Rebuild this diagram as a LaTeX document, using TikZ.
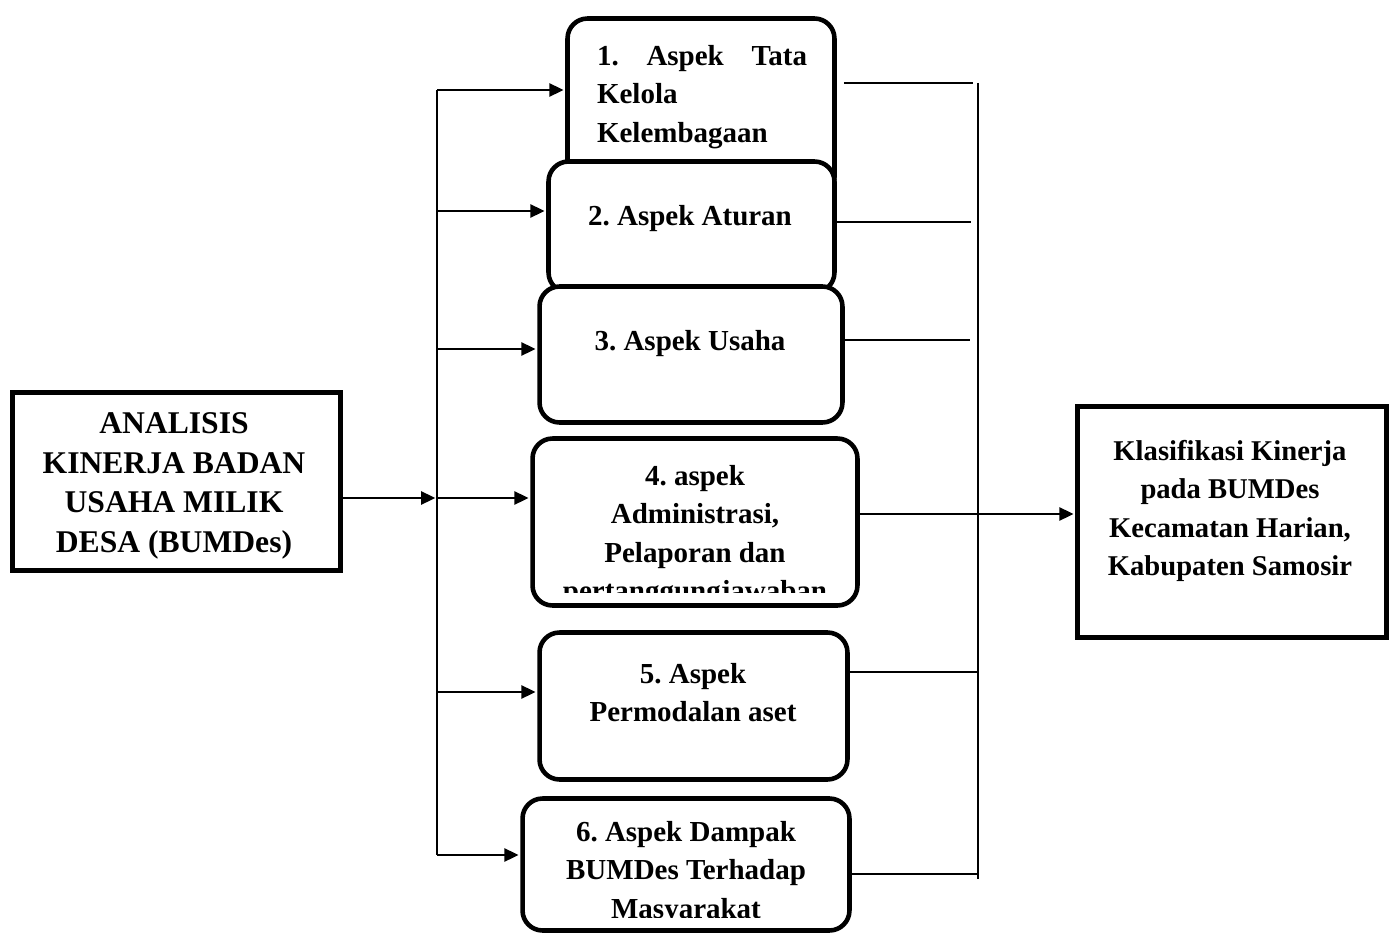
\documentclass[tikz,border=0pt]{standalone}
\usepackage{fontspec}
\setmainfont{Liberation Serif}
\usetikzlibrary{arrows.meta, calc}

\tikzstyle{aspek} = [rectangle, rounded corners=0.4cm, draw, line width=2.6pt, fill=white, inner sep=0pt]
\tikzstyle{kotak} = [rectangle, draw, line width=2.6pt, fill=white, inner sep=0pt]
\tikzstyle{isi} = [inner sep=0pt, align=center, font=\bfseries\frenchspacing\fontsize{16.5}{21.8}\selectfont]
\tikzstyle{arrow} = [line width=1.1pt, shorten >=1pt, -{Triangle[length=8pt,width=7.5pt]}]
\tikzstyle{garis} = [line width=1.1pt]

\begin{document}
\begin{tikzpicture}[x=0.02cm, y=-0.02cm]
\useasboundingbox (0,0) rectangle (1394,936);

% kotak analisis dan klasifikasi
\node[kotak, minimum width=6.56cm, minimum height=3.56cm] (ana) at (176.5,481.5) {};
\node[isi, font=\bfseries\frenchspacing\fontsize{18}{22.5}\selectfont] (tana) at (174,486) {ANALISIS\\KINERJA BADAN\\USAHA MILIK\\DESA (BUMDes)};
\node[kotak, minimum width=6.18cm, minimum height=4.62cm] (kls) at (1232,522) {};
\node[isi, font=\bfseries\frenchspacing\fontsize{16.3}{21.8}\selectfont] (tkls) at (1230,511) {Klasifikasi Kinerja\\pada BUMDes\\Kecamatan Harian,\\Kabupaten Samosir};

% kotak aspek
\node[aspek, minimum width=5.34cm, minimum height=3.58cm] (b1) at (701,108) {};
\node[isi, align=left, text width=4.2cm] (t1) at (702,97) {1.\hfill Aspek\hfill Tata\\Kelola\\Kelembagaan};
\node[aspek, minimum width=5.72cm, minimum height=2.62cm] (b2) at (691.5,227) {};
\node[isi] (t2) at (690,219) {2. Aspek Aturan};
\node[aspek, minimum width=6.06cm, minimum height=2.72cm] (b3) at (691,354.5) {};
\node[isi] (t3) at (690,344) {3. Aspek Usaha};
\node[aspek, minimum width=6.5cm, minimum height=3.34cm] (b4) at (695,522) {};
\begin{scope}
  \clip (530,436) rectangle (860,592);
  \node[isi] (t4) at (695,536) {4. aspek\\Administrasi,\\Pelaporan dan\\pertanggungjawaban};
\end{scope}
\node[aspek, minimum width=6.16cm, minimum height=2.94cm] (b5) at (693.5,706) {};
\node[isi] (t5) at (693,692.5) {5. Aspek\\Permodalan aset};
\node[aspek, minimum width=6.54cm, minimum height=2.64cm] (b6) at (686,864.5) {};
\begin{scope}
  \clip (520,796) rectangle (852,917);
  \node[isi] (t6) at (686,873) {6. Aspek Dampak\\BUMDes Terhadap\\Masyarakat};
\end{scope}

% garis kiri
\coordinate (l1) at (437,90);
\coordinate (l2) at (437,211);
\coordinate (l3) at (437,349);
\coordinate (l4) at (437,498);
\coordinate (l5) at (437,692);
\coordinate (l6) at (437,855);
\draw[line width=0.9pt] (l1) -- (l6);
\foreach \i in {1,...,6}
  \draw[arrow] (l\i) -- (l\i -| b\i.west);
\draw[arrow] (ana.east |- l4) -- (l4);

% garis kanan
\coordinate (r1) at (973,83);
\coordinate (r2) at (971,222);
\coordinate (r3) at (970,340);
\coordinate (r5) at (978,672);
\coordinate (r6) at (978,874);
\coordinate (ra) at (978,83);
\coordinate (rb) at (978,879);
\coordinate (o4) at (978,514);
\draw[garis] ($(b1.east |- r1)+(7,0)$) -- (r1);
\draw[garis] (b2.east |- r2) -- (r2);
\draw[garis] (b3.east |- r3) -- (r3);
\draw[garis] (b5.east |- r5) -- (r5);
\draw[garis] (b6.east |- r6) -- (r6);
\draw[line width=0.9pt] (ra) -- (rb);
\draw[arrow] (o4 -| b4.east) -- (o4 -| kls.west);
\end{tikzpicture}
\end{document}
